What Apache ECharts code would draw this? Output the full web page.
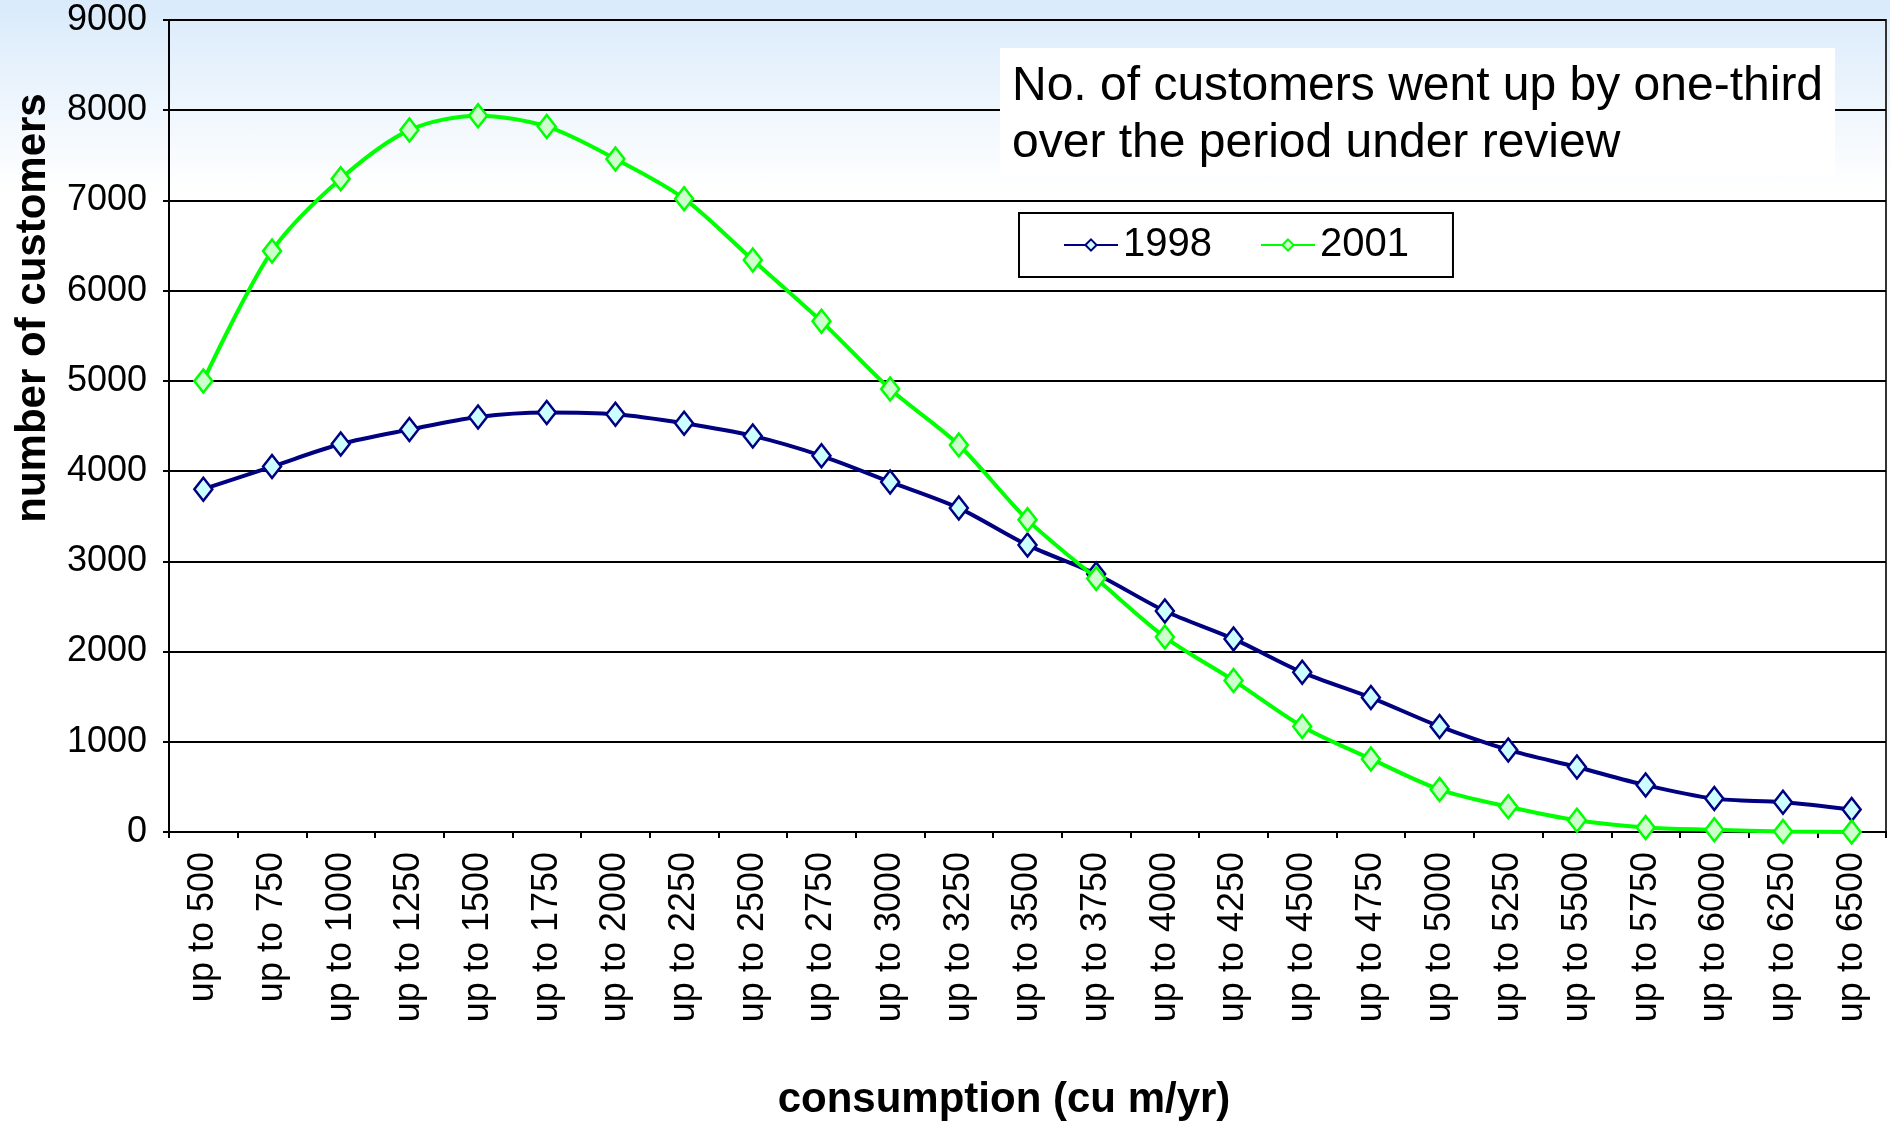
<!DOCTYPE html>
<html>
<head>
<meta charset="utf-8">
<title>number of customers by consumption</title>
<script src="https://cdn.jsdelivr.net/npm/echarts@6/dist/echarts.min.js"></script>
<style>
  html, body { margin: 0; padding: 0; }
  body { background: linear-gradient(to bottom, #d9eafb 0px, #ffffff 190px, #ffffff 100%); }
  #main { width: 1890px; height: 1126px; }
</style>
</head>
<body>
<div id="main"></div>
<script>
// categories: consumption bands
var categories = ['up to 500', 'up to 750', 'up to 1000', 'up to 1250', 'up to 1500', 'up to 1750',
  'up to 2000', 'up to 2250', 'up to 2500', 'up to 2750', 'up to 3000', 'up to 3250', 'up to 3500',
  'up to 3750', 'up to 4000', 'up to 4250', 'up to 4500', 'up to 4750', 'up to 5000', 'up to 5250',
  'up to 5500', 'up to 5750', 'up to 6000', 'up to 6250', 'up to 6500']

// number of customers
var values1998 = [3800, 4050, 4300, 4460, 4600, 4650, 4630, 4530, 4390, 4170, 3880, 3590, 3180,
  2860, 2450, 2140, 1770, 1490, 1170, 910, 720, 520, 370, 330, 250]
var values2001 = [5000, 6440, 7240, 7780, 7940, 7820, 7460, 7020, 6340, 5660, 4910, 4290, 3460,
  2810, 2160, 1680, 1170, 810, 470, 280, 130, 50, 25, 5, 0]

var yTicks = { min: 0, max: 9000, interval: 1000 }

var font = 'Liberation Sans, Arial, sans-serif'

var option = {
  backgroundColor: 'transparent',
  textStyle: { fontFamily: font, color: '#000' },
  animation: false,
  title: {
    text: 'No. of customers went up by one-third\nover the period under review',
    left: 1000,
    top: 48,
    padding: [10, 12, 4, 12],
    backgroundColor: '#fff',
    textStyle: {
      fontFamily: font,
      fontSize: 48,
      fontWeight: 'normal',
      lineHeight: 57,
      color: '#000'
    }
  },
  legend: {
    data: ['1998', '2001'],
    left: 1019,
    top: 213,
    orient: 'horizontal',
    padding: [12, 44, 12, 44],
    itemGap: 48,
    itemWidth: 54,
    itemHeight: 14,
    backgroundColor: '#fff',
    borderColor: '#000',
    borderWidth: 2,
    borderRadius: 0,
    textStyle: { fontFamily: font, fontSize: 40, lineHeight: 40, color: '#000' }
  },
  grid: {
    left: 169,
    right: 4,
    top: 20,
    bottom: 294,
    show: true,
    borderColor: '#333',
    borderWidth: 2,
    backgroundColor: 'transparent',
    outerBoundsMode: 'none'
  },
  xAxis: {
    type: 'category',
    data: categories,
    boundaryGap: true,
    axisLine: { lineStyle: { color: '#000', width: 2 } },
    axisTick: { show: true, length: 6, lineStyle: { color: '#000', width: 2 } },
    axisLabel: {
      interval: 0, // 全部显示
      rotate: 90,
      margin: 20,
      fontSize: 36,
      color: '#000',
      fontFamily: font
    },
    splitLine: { show: false }
  },
  yAxis: {
    type: 'value',
    min: yTicks.min,
    max: yTicks.max,
    interval: yTicks.interval,
    axisLine: { show: true, lineStyle: { color: '#000', width: 2 } },
    axisTick: { show: true, length: 6, lineStyle: { color: '#000', width: 2 } },
    axisLabel: {
      margin: 22,
      fontSize: 36,
      color: '#000',
      fontFamily: font,
      formatter: function (v) { return String(v) } // no thousands separator
    },
    splitLine: { show: true, lineStyle: { color: '#000', width: 2 } }
  },
  // axis titles
  graphic: [
    {
      type: 'text',
      x: 33,
      y: 308,
      rotation: Math.PI / 2,
      style: {
        text: 'number of customers',
        font: 'bold 42px ' + font,
        fill: '#000',
        textAlign: 'center',
        textVerticalAlign: 'middle'
      }
    },
    {
      type: 'text',
      x: 1004,
      y: 1100,
      style: {
        text: 'consumption (cu m/yr)',
        font: 'bold 42px ' + font,
        fill: '#000',
        textAlign: 'center',
        textVerticalAlign: 'middle'
      }
    }
  ],
  series: [
    {
      name: '1998',
      type: 'line',
      data: values1998,
      smooth: 0.3,
      symbol: 'diamond',
      symbolSize: [18, 23],
      lineStyle: { color: '#000080', width: 4 },
      itemStyle: { color: '#ccffff', borderColor: '#000080', borderWidth: 2.5 },
      z: 3
    },
    {
      name: '2001',
      type: 'line',
      data: values2001,
      smooth: 0.3,
      symbol: 'diamond',
      symbolSize: [18, 23],
      lineStyle: { color: '#00ff00', width: 4 },
      itemStyle: { color: '#ccffcc', borderColor: '#00ff00', borderWidth: 2.5 },
      z: 4
    }
  ]
}

var chartDom = document.getElementById('main')
var chart = echarts.init(chartDom, null, { renderer: 'canvas' })
chart.setOption(option)
</script>
</body>
</html>
